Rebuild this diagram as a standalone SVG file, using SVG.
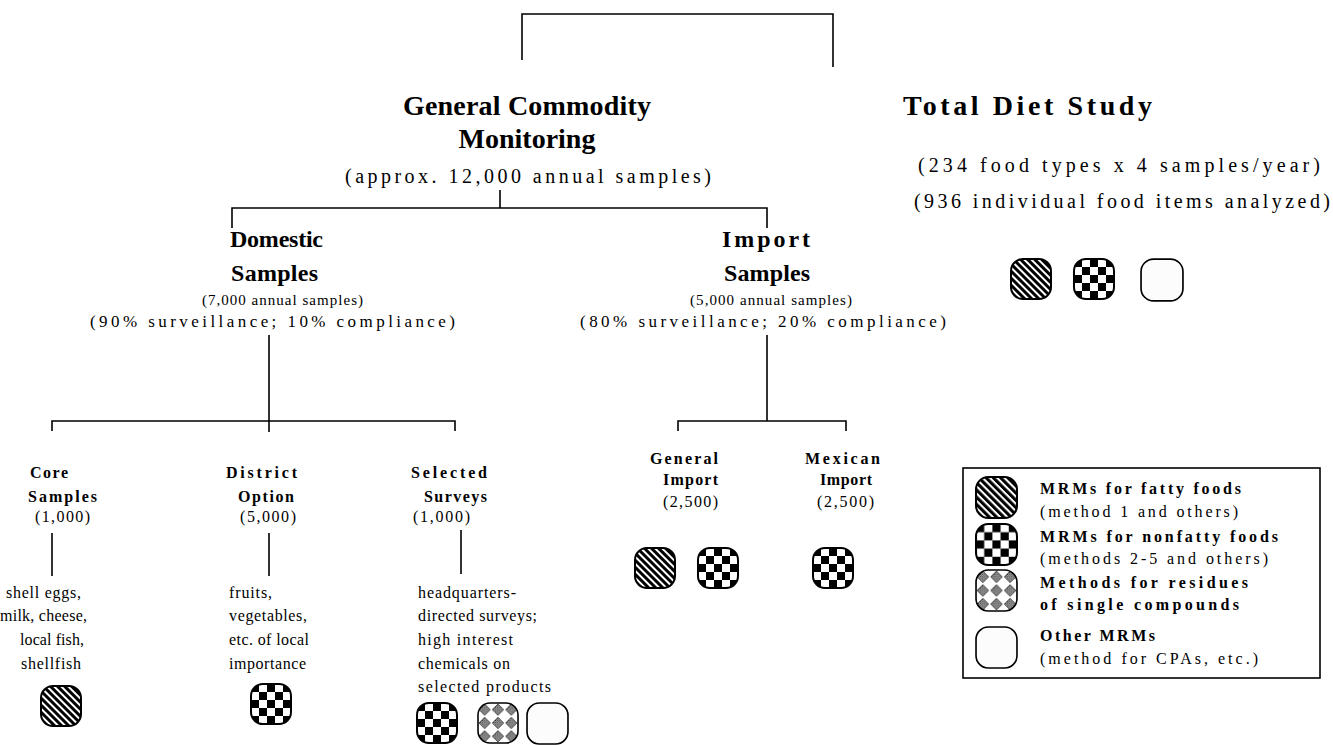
<svg xmlns="http://www.w3.org/2000/svg" width="1333" height="745" viewBox="0 0 1333 745">
  <style>
    .t { font-family: "Liberation Serif", "Times New Roman", serif; fill: #000; }
    .h1 { font-size: 28px; font-weight: bold; }
    .h2 { font-size: 24px; font-weight: bold; }
    .h3 { font-size: 16px; font-weight: bold; }
    .s20 { font-size: 20px; }
    .s17 { font-size: 17px; }
    .s16 { font-size: 16px; }
    .s15 { font-size: 15px; }
    .conn { fill: none; stroke: #000; stroke-width: 1.6; }
    .box { fill: #fff; stroke: #000; stroke-width: 1.6; }
  </style>
  <defs>
    <!-- diagonal hatching for the fatty-food methods -->
    <pattern id="stripes" width="5" height="5" patternUnits="userSpaceOnUse" patternTransform="rotate(-45)">
      <rect width="5" height="5" fill="#fff"/>
      <rect width="3" height="5" fill="#000"/>
    </pattern>
    <!-- 5x5 checkerboard for nonfatty-food methods -->
    <pattern id="checker" x="1" y="1" width="16" height="16" patternUnits="userSpaceOnUse">
      <rect width="16" height="16" fill="#fff"/>
      <rect width="8" height="8" fill="#000"/>
      <rect x="8" y="8" width="8" height="8" fill="#000"/>
    </pattern>
    <!-- fine grey texture inside each diamond -->
    <pattern id="fine" width="2" height="2" patternUnits="userSpaceOnUse">
      <rect width="2" height="2" fill="#fff"/>
      <rect width="1" height="1" fill="#000"/>
      <rect x="1" y="1" width="1" height="1" fill="#000"/>
    </pattern>
    <pattern id="diamonds" x="1" y="1" width="13.33" height="13.33" patternUnits="userSpaceOnUse">
      <rect width="13.33" height="13.33" fill="#fff"/>
      <polygon points="6.67,1 12.3,6.67 6.67,12.3 1,6.67" fill="url(#fine)" stroke="#333" stroke-width="0.8"/>
    </pattern>

    <symbol id="ico-fatty" viewBox="0 0 42 42">
      <rect x="1" y="1" width="40" height="40" rx="12" fill="url(#stripes)" stroke="#000" stroke-width="2"/>
    </symbol>
    <symbol id="ico-nonfatty" viewBox="0 0 42 42">
      <rect x="1" y="1" width="40" height="40" rx="12" fill="url(#checker)" stroke="#000" stroke-width="2"/>
    </symbol>
    <symbol id="ico-single" viewBox="0 0 42 42">
      <rect x="1" y="1" width="40" height="40" rx="12" fill="url(#diamonds)" stroke="#000" stroke-width="1.6"/>
    </symbol>
    <symbol id="ico-other" viewBox="0 0 42 42">
      <rect x="1" y="1" width="40" height="40" rx="12" fill="#fcfcfc" stroke="#000" stroke-width="1.6"/>
    </symbol>
  </defs>

  <rect width="1333" height="745" fill="#fff"/>

  <!-- connectors -->
  <g id="connectors" class="conn">
    <path d="M522,60 V14 H833 V67"/>
    <path d="M500,190 V208 M232,228 V208 H767 V228"/>
    <path d="M269,335 V432 M52,431 V421 H455 V431"/>
    <path d="M767,335 V421 M678,431 V421 H846 V431"/>
    <path d="M52,533 V576 M269,533 V576 M461,530 V574"/>
  </g>

  <!-- top level -->
  <g id="node-gcm" class="t">
    <text class="h1" x="403" y="115" textLength="248" lengthAdjust="spacing">General Commodity</text>
    <text class="h1" x="527" y="148" text-anchor="middle">Monitoring</text>
    <text class="s20" x="345" y="183" textLength="366" lengthAdjust="spacing">(approx. 12,000 annual samples)</text>
  </g>

  <g id="node-tds" class="t">
    <text class="h1" x="903" y="115" textLength="249" lengthAdjust="spacing">Total Diet Study</text>
    <text class="s20" x="918" y="172" textLength="402" lengthAdjust="spacing">(234 food types x 4 samples/year)</text>
    <text class="s20" x="914" y="208" textLength="416" lengthAdjust="spacing">(936 individual food items analyzed)</text>
    <use href="#ico-fatty" x="1010" y="258" width="42" height="42"/>
    <use href="#ico-nonfatty" x="1073" y="258" width="42" height="42"/>
    <use href="#ico-other" x="1140" y="258" width="44" height="44"/>
  </g>

  <!-- second level -->
  <g id="node-domestic" class="t">
    <text class="h2" x="230" y="247" textLength="93" lengthAdjust="spacing">Domestic</text>
    <text class="h2" x="231" y="281" textLength="87" lengthAdjust="spacing">Samples</text>
    <text class="s15" x="202" y="305" textLength="161" lengthAdjust="spacing">(7,000 annual samples)</text>
    <text class="s17" x="90" y="327" textLength="365" lengthAdjust="spacing">(90% surveillance; 10% compliance)</text>
  </g>

  <g id="node-import" class="t">
    <text class="h2" x="722" y="247" textLength="88" lengthAdjust="spacing">Import</text>
    <text class="h2" x="724" y="281" textLength="86" lengthAdjust="spacing">Samples</text>
    <text class="s15" x="690" y="305" textLength="162" lengthAdjust="spacing">(5,000 annual samples)</text>
    <text class="s17" x="580" y="327" textLength="366" lengthAdjust="spacing">(80% surveillance; 20% compliance)</text>
  </g>

  <!-- domestic branches -->
  <g id="node-core" class="t">
    <text class="h3" x="30" y="478" textLength="38" lengthAdjust="spacing">Core</text>
    <text class="h3" x="28" y="502" textLength="69" lengthAdjust="spacing">Samples</text>
    <text class="s16" x="35" y="522" textLength="55" lengthAdjust="spacing">(1,000)</text>
    <text class="s16" x="6" y="598" textLength="75" lengthAdjust="spacing">shell eggs,</text>
    <text class="s16" x="0" y="621" textLength="87" lengthAdjust="spacing">milk, cheese,</text>
    <text class="s16" x="20" y="645" textLength="64" lengthAdjust="spacing">local fish,</text>
    <text class="s16" x="21" y="669" textLength="60" lengthAdjust="spacing">shellfish</text>
    <use href="#ico-fatty" x="40" y="685" width="42" height="42"/>
  </g>

  <g id="node-district" class="t">
    <text class="h3" x="226" y="478" textLength="71" lengthAdjust="spacing">District</text>
    <text class="h3" x="238" y="502" textLength="56" lengthAdjust="spacing">Option</text>
    <text class="s16" x="240" y="522" textLength="56" lengthAdjust="spacing">(5,000)</text>
    <text class="s16" x="229" y="598" textLength="43" lengthAdjust="spacing">fruits,</text>
    <text class="s16" x="229" y="621" textLength="78" lengthAdjust="spacing">vegetables,</text>
    <text class="s16" x="229" y="645" textLength="80" lengthAdjust="spacing">etc. of local</text>
    <text class="s16" x="229" y="669" textLength="77" lengthAdjust="spacing">importance</text>
    <use href="#ico-nonfatty" x="250" y="683" width="42" height="42"/>
  </g>

  <g id="node-selected" class="t">
    <text class="h3" x="411" y="478" textLength="76" lengthAdjust="spacing">Selected</text>
    <text class="h3" x="424" y="502" textLength="63" lengthAdjust="spacing">Surveys</text>
    <text class="s16" x="413" y="522" textLength="57" lengthAdjust="spacing">(1,000)</text>
    <text class="s16" x="418" y="598" textLength="98" lengthAdjust="spacing">headquarters-</text>
    <text class="s16" x="418" y="621" textLength="119" lengthAdjust="spacing">directed surveys;</text>
    <text class="s16" x="418" y="645" textLength="95" lengthAdjust="spacing">high interest</text>
    <text class="s16" x="418" y="669" textLength="92" lengthAdjust="spacing">chemicals on</text>
    <text class="s16" x="418" y="692" textLength="133" lengthAdjust="spacing">selected products</text>
    <use href="#ico-nonfatty" x="416" y="702" width="42" height="42"/>
    <use href="#ico-single" x="477" y="702" width="42" height="42"/>
    <use href="#ico-other" x="526" y="702" width="43" height="43"/>
  </g>

  <!-- import branches -->
  <g id="node-general-import" class="t">
    <text class="h3" x="650" y="464" textLength="68" lengthAdjust="spacing">General</text>
    <text class="h3" x="663" y="485" textLength="55" lengthAdjust="spacing">Import</text>
    <text class="s16" x="663" y="507" textLength="55" lengthAdjust="spacing">(2,500)</text>
    <use href="#ico-fatty" x="634" y="547" width="42" height="42"/>
    <use href="#ico-nonfatty" x="697" y="547" width="42" height="42"/>
  </g>

  <g id="node-mexican-import" class="t">
    <text class="h3" x="805" y="464" textLength="75" lengthAdjust="spacing">Mexican</text>
    <text class="h3" x="820" y="485" textLength="52" lengthAdjust="spacing">Import</text>
    <text class="s16" x="817" y="507" textLength="57" lengthAdjust="spacing">(2,500)</text>
    <use href="#ico-nonfatty" x="812" y="547" width="42" height="42"/>
  </g>

  <!-- legend -->
  <g id="legend" class="t">
    <rect class="box" x="963" y="468" width="357" height="210"/>
    <use href="#ico-fatty" x="975" y="476" width="43" height="43"/>
    <use href="#ico-nonfatty" x="975" y="523" width="43" height="43"/>
    <use href="#ico-single" x="975" y="569" width="43" height="43"/>
    <use href="#ico-other" x="975" y="625" width="43" height="45"/>
    <text class="h3" x="1040" y="494" textLength="201" lengthAdjust="spacing">MRMs for fatty foods</text>
    <text class="s16" x="1040" y="517" textLength="198" lengthAdjust="spacing">(method 1 and others)</text>
    <text class="h3" x="1040" y="542" textLength="238" lengthAdjust="spacing">MRMs for nonfatty foods</text>
    <text class="s16" x="1040" y="564" textLength="228" lengthAdjust="spacing">(methods 2-5 and others)</text>
    <text class="h3" x="1040" y="588" textLength="208" lengthAdjust="spacing">Methods for residues</text>
    <text class="h3" x="1040" y="610" textLength="199" lengthAdjust="spacing">of single compounds</text>
    <text class="h3" x="1040" y="641" textLength="115" lengthAdjust="spacing">Other MRMs</text>
    <text class="s16" x="1040" y="664" textLength="218" lengthAdjust="spacing">(method for CPAs, etc.)</text>
  </g>
</svg>
